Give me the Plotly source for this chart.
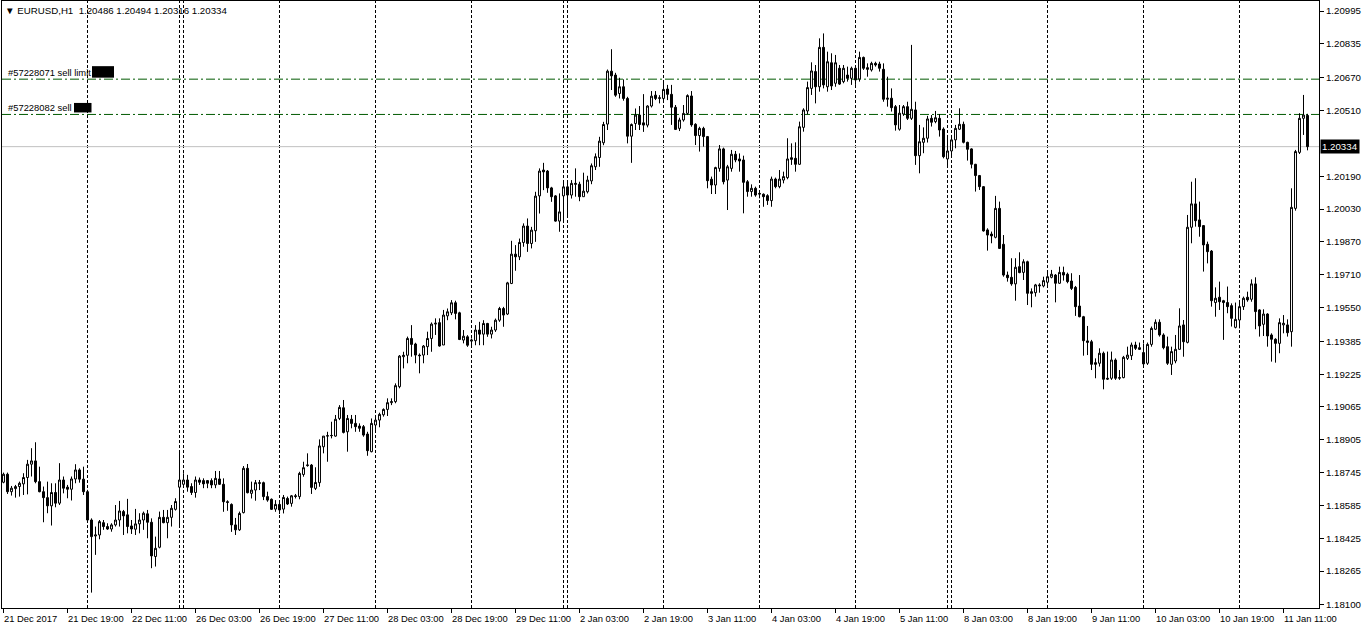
import pandas as pd
import plotly.graph_objects as go

symbol = "EURUSD,H1"

# trading sessions: (date, first hour, number of H1 bars)
sessions = [
    ("2017-12-21", 3, 21), ("2017-12-22", 0, 23), ("2017-12-25", 23, 1),
    ("2017-12-26", 0, 24), ("2017-12-27", 0, 24), ("2017-12-28", 0, 24),
    ("2017-12-29", 0, 23), ("2018-01-01", 23, 1), ("2018-01-02", 0, 24),
    ("2018-01-03", 0, 24), ("2018-01-04", 0, 24), ("2018-01-05", 0, 23),
    ("2018-01-07", 23, 1), ("2018-01-08", 0, 24), ("2018-01-09", 0, 24),
    ("2018-01-10", 0, 24), ("2018-01-11", 0, 18),
]

opens = [
    1.18698,1.18737,1.18652,1.18667,1.18677,1.18690,1.18721,1.18786,1.18802,1.18701,
    1.18652,1.18623,1.18583,1.18648,1.18596,1.18709,1.18674,1.18664,1.18714,1.18758,
    1.18713,1.18652,1.18514,1.18436,1.18441,1.18501,1.18482,1.18470,1.18490,1.18514,
    1.18555,1.18539,1.18485,1.18469,1.18495,1.18514,1.18544,1.18503,1.18336,1.18381,
    1.18527,1.18501,1.18527,1.18566,1.18674,1.18688,1.18709,1.18677,1.18648,1.18709,
    1.18706,1.18706,1.18706,1.18685,1.18714,1.18688,1.18603,1.18590,1.18490,1.18466,
    1.18550,1.18766,1.18644,1.18660,1.18696,1.18696,1.18628,1.18615,1.18567,1.18590,
    1.18567,1.18619,1.18595,1.18632,1.18628,1.18736,1.18779,1.18782,1.18668,1.18696,
    1.18871,1.18923,1.18925,1.18923,1.19009,1.19061,1.18944,1.19005,1.18985,1.18972,
    1.18969,1.18933,1.18847,1.18977,1.19001,1.19027,1.19053,1.19086,1.19091,1.19164,
    1.19310,1.19317,1.19399,1.19372,1.19318,1.19318,1.19359,1.19399,1.19469,1.19476,
    1.19367,1.19509,1.19524,1.19573,1.19524,1.19391,1.19407,1.19386,1.19388,1.19440,
    1.19420,1.19472,1.19420,1.19440,1.19488,1.19545,1.19518,1.19667,1.19810,1.19797,
    1.19867,1.19947,1.19862,1.19924,1.20094,1.20220,1.20215,1.20133,1.20094,1.19971,
    1.20094,1.20138,1.20098,1.20155,1.20151,1.20090,1.20114,1.20167,1.20236,1.20281,
    1.20353,1.20444,1.20702,1.20683,1.20593,1.20626,1.20569,1.20385,1.20447,1.20488,
    1.20450,1.20439,1.20532,1.20585,1.20572,1.20569,1.20615,1.20589,1.20526,1.20423,
    1.20464,1.20496,1.20581,1.20443,1.20388,1.20423,1.20383,1.20175,1.20147,1.20228,
    1.20323,1.20171,1.20228,1.20297,1.20274,1.20269,1.20163,1.20115,1.20131,1.20106,
    1.20102,1.20095,1.20071,1.20176,1.20139,1.20171,1.20183,1.20280,1.20277,1.20248,
    1.20428,1.20508,1.20618,1.20700,1.20626,1.20818,1.20626,1.20743,1.20643,1.20716,
    1.20651,1.20683,1.20667,1.20716,1.20664,1.20769,1.20719,1.20708,1.20740,1.20737,
    1.20711,1.20565,1.20570,1.20529,1.20419,1.20493,1.20529,1.20472,1.20513,1.20290,
    1.20355,1.20375,1.20472,1.20456,1.20472,1.20420,1.20274,1.20313,1.20367,1.20419,
    1.20443,1.20355,1.20323,1.20248,1.20193,1.20139,1.19928,1.19908,1.19892,1.20033,
    1.19858,1.19708,1.19697,1.19665,1.19749,1.19721,1.19773,1.19627,1.19622,1.19660,
    1.19655,1.19673,1.19697,1.19708,1.19668,1.19721,1.19712,1.19679,1.19648,1.19557,
    1.19505,1.19387,1.19383,1.19281,1.19278,1.19327,1.19205,1.19205,1.19294,1.19205,
    1.19208,1.19302,1.19315,1.19367,1.19354,1.19330,1.19278,1.19370,1.19444,1.19478,
    1.19416,1.19359,1.19273,1.19289,1.19346,1.19465,1.19380,1.19941,1.20055,1.19977,
    1.19949,1.19858,1.19825,1.19574,1.19600,1.19583,1.19574,1.19559,1.19453,1.19489,
    1.19554,1.19600,1.19590,1.19665,1.19538,1.19468,1.19518,1.19416,1.19395,1.19375,
    1.19465,1.19465,1.19432,1.20033,1.20306,1.20472,1.20486,
]

highs = [
    1.18745,1.18745,1.18680,1.18685,1.18701,1.18742,1.18807,1.18864,1.18893,1.18774,
    1.18677,1.18701,1.18693,1.18693,1.18791,1.18726,1.18685,1.18726,1.18786,1.18766,
    1.18774,1.18661,1.18522,1.18482,1.18514,1.18514,1.18498,1.18498,1.18587,1.18607,
    1.18563,1.18617,1.18514,1.18568,1.18547,1.18555,1.18563,1.18522,1.18433,1.18555,
    1.18563,1.18563,1.18587,1.18620,1.18847,1.18742,1.18734,1.18693,1.18726,1.18721,
    1.18717,1.18709,1.18717,1.18753,1.18753,1.18717,1.18610,1.18595,1.18524,1.18555,
    1.18777,1.18787,1.18701,1.18709,1.18709,1.18701,1.18652,1.18619,1.18611,1.18611,
    1.18636,1.18628,1.18636,1.18641,1.18749,1.18798,1.18839,1.18787,1.18771,1.18907,
    1.18923,1.18944,1.18993,1.19026,1.19074,1.19099,1.19026,1.19026,1.19026,1.18985,
    1.18977,1.18944,1.19009,1.19018,1.19037,1.19058,1.19107,1.19107,1.19180,1.19318,
    1.19334,1.19408,1.19464,1.19378,1.19326,1.19367,1.19432,1.19477,1.19497,1.19497,
    1.19538,1.19545,1.19586,1.19583,1.19529,1.19440,1.19415,1.19399,1.19464,1.19480,
    1.19488,1.19475,1.19456,1.19496,1.19553,1.19553,1.19675,1.19875,1.19854,1.19886,
    1.19960,1.19984,1.19943,1.20114,1.20228,1.20255,1.20220,1.20138,1.20098,1.20106,
    1.20163,1.20163,1.20171,1.20228,1.20163,1.20207,1.20192,1.20252,1.20301,1.20382,
    1.20455,1.20710,1.20809,1.20694,1.20670,1.20662,1.20577,1.20447,1.20520,1.20532,
    1.20590,1.20536,1.20605,1.20605,1.20585,1.20650,1.20635,1.20635,1.20537,1.20475,
    1.20537,1.20589,1.20605,1.20448,1.20431,1.20431,1.20386,1.20188,1.20236,1.20342,
    1.20329,1.20245,1.20318,1.20313,1.20301,1.20290,1.20171,1.20150,1.20139,1.20115,
    1.20106,1.20102,1.20188,1.20183,1.20220,1.20212,1.20375,1.20350,1.20355,1.20456,
    1.20521,1.20651,1.20745,1.20732,1.20862,1.20886,1.20797,1.20789,1.20781,1.20732,
    1.20732,1.20724,1.20724,1.20732,1.20797,1.20773,1.20740,1.20748,1.20748,1.20748,
    1.20740,1.20675,1.20618,1.20537,1.20537,1.20537,1.20553,1.20830,1.20553,1.20440,
    1.20428,1.20484,1.20488,1.20508,1.20493,1.20428,1.20391,1.20391,1.20440,1.20521,
    1.20456,1.20358,1.20326,1.20250,1.20196,1.20142,1.19936,1.19920,1.20094,1.20066,
    1.19903,1.19725,1.19790,1.19790,1.19819,1.19785,1.19778,1.19643,1.19665,1.19668,
    1.19700,1.19725,1.19733,1.19713,1.19749,1.19749,1.19720,1.19717,1.19655,1.19708,
    1.19509,1.19460,1.19392,1.19302,1.19351,1.19335,1.19335,1.19335,1.19302,1.19245,
    1.19314,1.19359,1.19379,1.19383,1.19379,1.19375,1.19379,1.19457,1.19492,1.19492,
    1.19424,1.19408,1.19359,1.19416,1.19546,1.19489,1.20001,1.20163,1.20180,1.20066,
    1.19952,1.19871,1.19830,1.19648,1.19676,1.19587,1.19652,1.19570,1.19574,1.19578,
    1.19603,1.19627,1.19687,1.19697,1.19541,1.19541,1.19522,1.19424,1.19400,1.19497,
    1.19513,1.19492,1.20131,1.20318,1.20497,1.20586,1.20494,
]

lows = [
    1.18693,1.18641,1.18633,1.18623,1.18628,1.18636,1.18639,1.18726,1.18693,1.18649,
    1.18503,1.18547,1.18487,1.18576,1.18587,1.18644,1.18620,1.18609,1.18693,1.18696,
    1.18636,1.18506,1.18160,1.18344,1.18420,1.18466,1.18466,1.18457,1.18482,1.18482,
    1.18441,1.18449,1.18446,1.18441,1.18449,1.18466,1.18425,1.18279,1.18287,1.18376,
    1.18498,1.18425,1.18482,1.18560,1.18482,1.18674,1.18652,1.18636,1.18623,1.18685,
    1.18669,1.18669,1.18669,1.18669,1.18685,1.18554,1.18559,1.18456,1.18441,1.18461,
    1.18546,1.18644,1.18619,1.18608,1.18660,1.18611,1.18603,1.18563,1.18554,1.18543,
    1.18546,1.18587,1.18579,1.18619,1.18615,1.18725,1.18774,1.18641,1.18660,1.18676,
    1.18839,1.18798,1.18912,1.18920,1.19001,1.18936,1.18847,1.18961,1.18944,1.18944,
    1.18920,1.18827,1.18844,1.18953,1.18966,1.19018,1.19021,1.19074,1.19083,1.19156,
    1.19253,1.19278,1.19310,1.19278,1.19229,1.19278,1.19318,1.19334,1.19416,1.19359,
    1.19367,1.19488,1.19513,1.19492,1.19391,1.19375,1.19358,1.19358,1.19366,1.19366,
    1.19366,1.19407,1.19399,1.19431,1.19480,1.19456,1.19513,1.19664,1.19729,1.19781,
    1.19846,1.19821,1.19838,1.19870,1.20008,1.20122,1.20109,1.20065,1.19968,1.19919,
    1.19976,1.20000,1.20081,1.20090,1.20068,1.20090,1.20106,1.20151,1.20220,1.20236,
    1.20341,1.20415,1.20610,1.20577,1.20569,1.20558,1.20350,1.20255,1.20415,1.20415,
    1.20406,1.20428,1.20525,1.20561,1.20545,1.20561,1.20561,1.20440,1.20415,1.20410,
    1.20456,1.20488,1.20431,1.20342,1.20310,1.20334,1.20131,1.20103,1.20103,1.20212,
    1.20150,1.20025,1.20212,1.20258,1.20212,1.20009,1.20090,1.20090,1.20090,1.20082,
    1.20041,1.20050,1.20041,1.20131,1.20131,1.20155,1.20175,1.20245,1.20212,1.20245,
    1.20407,1.20492,1.20586,1.20545,1.20602,1.20618,1.20602,1.20610,1.20626,1.20635,
    1.20643,1.20651,1.20635,1.20635,1.20651,1.20708,1.20675,1.20700,1.20724,1.20700,
    1.20553,1.20529,1.20505,1.20412,1.20412,1.20484,1.20464,1.20464,1.20245,1.20204,
    1.20302,1.20354,1.20432,1.20448,1.20383,1.20277,1.20240,1.20285,1.20326,1.20415,
    1.20350,1.20266,1.20228,1.20115,1.20123,1.19920,1.19827,1.19863,1.19887,1.19835,
    1.19700,1.19676,1.19656,1.19583,1.19717,1.19684,1.19562,1.19551,1.19603,1.19622,
    1.19648,1.19660,1.19692,1.19575,1.19665,1.19681,1.19668,1.19635,1.19509,1.19502,
    1.19315,1.19318,1.19245,1.19205,1.19262,1.19151,1.19197,1.19197,1.19197,1.19197,
    1.19205,1.19294,1.19294,1.19343,1.19343,1.19262,1.19270,1.19359,1.19440,1.19408,
    1.19346,1.19270,1.19221,1.19278,1.19343,1.19310,1.19375,1.19863,1.19944,1.19895,
    1.19725,1.19765,1.19554,1.19505,1.19538,1.19392,1.19522,1.19457,1.19448,1.19448,
    1.19538,1.19578,1.19578,1.19444,1.19408,1.19411,1.19359,1.19286,1.19281,1.19327,
    1.19424,1.19408,1.19359,1.20022,1.20298,1.20391,1.20316,
]

closes = [
    1.18737,1.18652,1.18669,1.18677,1.18693,1.18721,1.18786,1.18802,1.18701,1.18652,
    1.18623,1.18583,1.18648,1.18596,1.18709,1.18669,1.18664,1.18714,1.18758,1.18713,
    1.18652,1.18514,1.18433,1.18441,1.18506,1.18482,1.18470,1.18490,1.18514,1.18558,
    1.18534,1.18482,1.18470,1.18495,1.18514,1.18547,1.18503,1.18339,1.18376,1.18527,
    1.18501,1.18527,1.18571,1.18604,1.18709,1.18709,1.18674,1.18648,1.18709,1.18698,
    1.18690,1.18693,1.18685,1.18717,1.18688,1.18603,1.18600,1.18490,1.18466,1.18546,
    1.18766,1.18647,1.18660,1.18696,1.18693,1.18628,1.18611,1.18566,1.18590,1.18563,
    1.18624,1.18592,1.18632,1.18629,1.18741,1.18769,1.18782,1.18673,1.18697,1.18875,
    1.18923,1.18925,1.18926,1.19005,1.19063,1.18941,1.19009,1.18985,1.18969,1.18961,
    1.18928,1.18852,1.18985,1.19001,1.19029,1.19053,1.19086,1.19091,1.19169,1.19313,
    1.19317,1.19399,1.19370,1.19318,1.19315,1.19362,1.19399,1.19469,1.19473,1.19362,
    1.19513,1.19529,1.19573,1.19521,1.19394,1.19410,1.19366,1.19391,1.19440,1.19420,
    1.19472,1.19420,1.19440,1.19488,1.19545,1.19513,1.19670,1.19810,1.19797,1.19867,
    1.19947,1.19862,1.19927,1.20093,1.20215,1.20211,1.20133,1.20090,1.19971,1.20016,
    1.20138,1.20098,1.20155,1.20151,1.20090,1.20117,1.20171,1.20241,1.20285,1.20361,
    1.20442,1.20702,1.20679,1.20585,1.20626,1.20569,1.20385,1.20442,1.20488,1.20442,
    1.20439,1.20532,1.20580,1.20569,1.20570,1.20613,1.20589,1.20526,1.20418,1.20464,
    1.20496,1.20583,1.20440,1.20388,1.20423,1.20383,1.20168,1.20147,1.20232,1.20323,
    1.20163,1.20236,1.20297,1.20269,1.20264,1.20160,1.20115,1.20131,1.20098,1.20103,
    1.20090,1.20071,1.20176,1.20139,1.20176,1.20188,1.20274,1.20272,1.20248,1.20431,
    1.20513,1.20622,1.20703,1.20626,1.20818,1.20635,1.20748,1.20630,1.20743,1.20639,
    1.20716,1.20667,1.20716,1.20659,1.20769,1.20716,1.20711,1.20740,1.20732,1.20716,
    1.20565,1.20570,1.20524,1.20440,1.20497,1.20529,1.20472,1.20516,1.20290,1.20358,
    1.20375,1.20469,1.20453,1.20475,1.20415,1.20285,1.20313,1.20367,1.20423,1.20443,
    1.20355,1.20321,1.20248,1.20193,1.20139,1.19923,1.19903,1.19899,1.20033,1.19838,
    1.19708,1.19695,1.19665,1.19746,1.19720,1.19773,1.19619,1.19619,1.19660,1.19656,
    1.19681,1.19700,1.19712,1.19668,1.19721,1.19708,1.19676,1.19643,1.19554,1.19505,
    1.19388,1.19380,1.19273,1.19273,1.19327,1.19200,1.19201,1.19294,1.19205,1.19208,
    1.19307,1.19318,1.19367,1.19351,1.19346,1.19275,1.19370,1.19448,1.19478,1.19416,
    1.19354,1.19278,1.19335,1.19346,1.19460,1.19383,1.19941,1.20055,1.19973,1.19944,
    1.19855,1.19822,1.19583,1.19595,1.19578,1.19574,1.19554,1.19497,1.19492,1.19554,
    1.19595,1.19587,1.19665,1.19530,1.19460,1.19518,1.19411,1.19395,1.19375,1.19476,
    1.19473,1.19427,1.20038,1.20310,1.20472,1.20488,1.20334,
]

price_ticks = [1.20995, 1.20835, 1.20670, 1.20510, 1.20190, 1.20030, 1.19870,
               1.19710, 1.19550, 1.19385, 1.19225, 1.19065, 1.18905, 1.18745,
               1.18585, 1.18425, 1.18265, 1.18100]

orders = [("#57228071 sell limit", 1.20663), ("#57228082 sell", 1.20491)]
last_price = closes[-1]

# ---- build time index ----
times = []
for day, h0, nbars in sessions:
    start = pd.Timestamp(day) + pd.Timedelta(hours=h0)
    times += [start + pd.Timedelta(hours=k) for k in range(nbars)]
n = len(times)
assert n == len(opens) == len(highs) == len(lows) == len(closes), (n, len(opens), len(highs), len(lows), len(closes))
idx = list(range(n))

FONT = "Liberation Sans, Arial, sans-serif"
FS = 9.4

fig = go.Figure()
fig.add_trace(go.Candlestick(
    x=idx, open=opens, high=highs, low=lows, close=closes,
    increasing=dict(line=dict(color="black", width=1), fillcolor="white"),
    decreasing=dict(line=dict(color="black", width=1), fillcolor="black"),
    whiskerwidth=0, showlegend=False, hoverinfo="skip",
))

shapes = []
# day period separators
for k in range(1, n):
    if times[k].date() != times[k - 1].date():
        shapes.append(dict(type="line", xref="x", yref="paper", x0=k, x1=k, y0=0, y1=1,
                           line=dict(color="black", width=1, dash="3px,2px"), layer="below"))
# bid line
shapes.append(dict(type="line", xref="paper", yref="y", x0=0, x1=1, y0=last_price, y1=last_price,
                   line=dict(color="#C0C0C0", width=1), layer="below"))
# order lines
for name, lvl in orders:
    shapes.append(dict(type="line", xref="paper", yref="y", x0=0, x1=1, y0=lvl, y1=lvl,
                       line=dict(color="#005a00", width=1, dash="9px,3px,2px,3px"), layer="below"))

# black tag boxes after order labels (pixel geometry of the label tags)
PLOT_W = 1317.0
tag_boxes = [(92, 114, 1.5, 13), (74, 91.5, 2, 11.5)]
for (name, lvl), (px0, px1, py0, py1) in zip(orders, tag_boxes):
    shapes.append(dict(type="rect", xref="paper", yref="y", ysizemode="pixel", yanchor=lvl,
                       x0=(px0 - 2) / PLOT_W, x1=(px1 - 2) / PLOT_W, y0=py0, y1=py1,
                       fillcolor="black", line=dict(width=0)))

annotations = []
# header
hdr = "▼ " + symbol + "\u00a0\u00a0" + " ".join(f"{v:.5f}" for v in (opens[-1], highs[-1], lows[-1], closes[-1]))
annotations.append(dict(text=hdr, xref="paper", yref="paper", x=0, y=1, xanchor="left", yanchor="top",
                        xshift=1, yshift=-2, showarrow=False, font=dict(family=FONT, size=FS + 0.3, color="black")))
# order labels
for name, lvl in orders:
    annotations.append(dict(text=name, xref="paper", yref="y", x=0, y=lvl, xanchor="left", yanchor="bottom",
                            xshift=4, yshift=-1, showarrow=False, font=dict(family=FONT, size=FS, color="black")))
# time labels
tick_idx = list(range(0, n, 16))
for j in tick_idx:
    t = times[j]
    txt = f"{t.day} {t:%b %Y}" if j == 0 else f"{t.day} {t:%b %H:%M}"
    annotations.append(dict(text=txt, xref="x", yref="paper", x=j, y=0, xanchor="left", yanchor="top",
                            xshift=-2, yshift=-3, showarrow=False, font=dict(family=FONT, size=FS, color="black")))
# current price tag
annotations.append(dict(text=f"{last_price:.5f}", xref="paper", yref="y", x=1, y=last_price,
                        xanchor="left", yanchor="middle", xshift=1, showarrow=False, bgcolor="black",
                        borderpad=1, font=dict(family=FONT, size=FS + 0.3, color="white")))

fig.update_layout(
    width=1362, height=629,
    margin=dict(l=2, r=43, t=1, b=21),
    paper_bgcolor="white", plot_bgcolor="white",
    shapes=shapes, annotations=annotations,
    showlegend=False,
    xaxis=dict(range=[-0.375, 328.875], rangeslider=dict(visible=False), showgrid=False, zeroline=False,
               tickvals=tick_idx, showticklabels=False, ticks="outside", ticklen=4, tickcolor="black",
               showline=True, linecolor="black", linewidth=1, mirror=True, fixedrange=True),
    yaxis=dict(range=[1.18085, 1.21044], side="right", showgrid=False, zeroline=False,
               tickvals=price_ticks, tickformat=".5f", ticks="outside", ticklen=4, tickcolor="black",
               tickfont=dict(family=FONT, size=FS + 0.3, color="black"),
               showline=True, linecolor="black", linewidth=1, mirror=True, fixedrange=True),
)

fig.write_html("out.html", config={"displayModeBar": False},
               post_script="document.body.style.margin='0px';document.body.style.overflow='hidden';")
